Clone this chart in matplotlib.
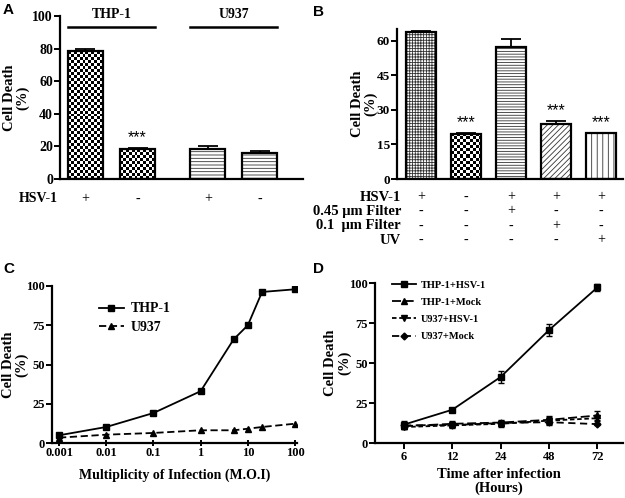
import numpy as np
import matplotlib.pyplot as plt
import matplotlib.transforms as mtransforms

plt.rcParams['font.family'] = ['Liberation Serif', 'DejaVu Serif']
plt.rcParams['font.weight'] = 'bold'
plt.rcParams['axes.labelweight'] = 'bold'
plt.rcParams['hatch.linewidth'] = 0.6

# Data -----

# Panel A
a_groups = ['THP-1', 'U937']
a_hsv = ['+', '-', '+', '-']
a_vals = [78.3, 18.4, 18.6, 15.9]
a_err = [1.7, 0.5, 1.7, 1.4]
a_sig = ['', '***', '', '']

# Panel B
b_vals = [63.7, 19.6, 57.4, 23.8, 19.8]
b_err = [0.6, 0.3, 3.1, 1.4, 0.2]
b_sig = ['', '***', '', '***', '***']
b_rows = ['HSV-1', '0.45 \u03bcm Filter', '0.1  \u03bcm Filter', 'UV']
b_signs = [['+', '-', '+', '+', '+'],
           ['-', '-', '+', '-', '-'],
           ['-', '-', '-', '+', '-'],
           ['-', '-', '-', '-', '+']]

# Panel C
c_moi = [0.001, 0.01, 0.1, 1, 5, 10, 20, 100]
c_moi_labels = ['0.001', '0.01', '0.1', '1', '10', '100']
c_thp = [4.9, 10.2, 19.1, 33, 66, 75, 96.2, 97.9]
c_u937 = [3.4, 5.3, 6.4, 8.1, 8.1, 9.1, 10.2, 12.3]

# Panel D
d_hours = ['6', '12', '24', '48', '72']
d_thp_hsv = [11.5, 20.8, 41.3, 70.6, 97.2]
d_thp_hsv_err = [2, 1, 3.7, 4, 2]
d_thp_mock = [10.5, 12, 12.8, 14.5, 17.2]
d_thp_mock_err = [1.5, 2, 1.5, 2.5, 2.8]
d_u_hsv = [10, 11, 12, 14, 15.5]
d_u_hsv_err = [1.5, 1.5, 2, 2, 2]
d_u_mock = [11, 11.2, 12.5, 13, 11.8]
d_u_mock_err = [1.2, 1.2, 1.5, 1.8, 0.8]

W, H = 625, 498


def box(l, t, r, b):
    # pixel box -> figure fraction rect
    return [l / W, 1 - b / H, (r - l) / W, (b - t) / H]


def style(ax, size):
    for s in ['top', 'right']:
        ax.spines[s].set_visible(False)
    for s in ['left', 'bottom']:
        ax.spines[s].set_linewidth(1.6)
    ax.tick_params(width=1.4, length=4, labelsize=size, pad=1)


def checker(ax, x0, x1, top, cell=3.0):
    p0 = ax.transData.transform((x0, 0))
    p1 = ax.transData.transform((x1, top))
    nx = max(1, int(round((p1[0] - p0[0]) / cell)))
    ny = max(1, int(round((p1[1] - p0[1]) / cell)))
    arr = np.add.outer(np.arange(ny), np.arange(nx)) % 2
    ax.imshow(arr, cmap='gray', extent=(x0, x1, 0, top), aspect='auto',
              interpolation='nearest', zorder=1)


def bars(ax, x, vals, err, hatches, width):
    for xi, v, h in zip(x, vals, hatches):
        if h == 'checker':
            checker(ax, xi - width / 2, xi + width / 2, v)
        else:
            ax.bar(xi, v, width, color='white', edgecolor='#333333',
                   hatch=h, linewidth=0, zorder=1)
    ax.errorbar(x, vals, yerr=[np.zeros(len(err)), err], fmt='none',
                ecolor='black', elinewidth=1.3, capsize=7, capthick=1.3, zorder=2)
    ax.bar(x, vals, width, facecolor='none', edgecolor='black',
           linewidth=1.6, zorder=3)


def stars(ax, x, vals, err, sig):
    for xi, v, e, s in zip(x, vals, err, sig):
        if s:
            ax.annotate(s, (xi, v + e), xytext=(0, 2), textcoords='offset points',
                        ha='center', va='bottom', fontsize=11.5,
                        family='Liberation Sans', fontweight='normal')


def ylab(ax, xpos):
    ax.set_ylabel('Cell Death\n(%)', fontsize=10.5, linespacing=1.0)
    ax.yaxis.set_label_coords(xpos, 0.5)


fig = plt.figure(figsize=(6.25, 4.98), dpi=100)

# Panel A -----
axA = fig.add_axes(box(60, 16, 303, 179))
style(axA, 10)
xa = [0, 1, 2.35, 3.35]
wa = 0.67
axA.set_xlim(-0.49, 4.18)
axA.set_ylim(0, 100)
axA.set_yticks([0, 20, 40, 60, 80, 100])
axA.set_xticks([])
bars(axA, xa, a_vals, a_err, ['checker', 'checker', '-----', '-----'], wa)
stars(axA, xa, a_vals, a_err, a_sig)
ylab(axA, -0.125)
for i, g in enumerate(a_groups):
    x0 = xa[2 * i] - wa / 2
    x1 = xa[2 * i + 1] + wa / 2
    axA.plot([x0, x1], [93, 93], color='black', lw=1.8, clip_on=False)
    axA.text((x0 + x1) / 2, 101, g, ha='center', va='center', fontsize=10)
trA = mtransforms.blended_transform_factory(axA.transData, fig.transFigure)
fig.text(19 / W, 1 - 199 / H, 'HSV-1', ha='left', va='center', fontsize=10)
for xi, s in zip(xa, a_hsv):
    axA.text(xi, 1 - 199 / H, s, transform=trA, ha='center', va='center',
             fontsize=10, fontweight='normal')

# Panel B -----
axB = fig.add_axes(box(397, 29, 623, 179))
style(axB, 9.5)
xb = np.arange(len(b_vals))
axB.set_xlim(-0.53, 4.49)
axB.set_ylim(0, 65)
axB.set_yticks([0, 15, 30, 45, 60])
axB.set_xticks([])
bars(axB, xb, b_vals, b_err, ['++++++', 'checker', '------', '//////', '|||'], 0.67)
stars(axB, xb, b_vals, b_err, b_sig)
ylab(axB, -0.088)
trB = mtransforms.blended_transform_factory(axB.transData, fig.transFigure)
for row, yp, signs in zip(b_rows, [197, 211, 226, 240], b_signs):
    fig.text(401 / W, 1 - yp / H, row, ha='right', va='center', fontsize=10.5)
    for xi, s in zip(xb, signs):
        axB.text(xi, 1 - yp / H, s, transform=trB, ha='center', va='center',
                 fontsize=10, fontweight='normal')

# Panel C -----
axC = fig.add_axes(box(52, 286, 297, 443))
style(axC, 9)
axC.set_xscale('log')
axC.plot(c_moi, c_thp, '-', color='black', lw=1.3, marker='s', ms=5, label='THP-1')
axC.plot(c_moi, c_u937, '--', color='black', lw=1.3, marker='^', ms=4,
         dashes=(4, 2), label='U937')
axC.set_xlim(7.1e-4, 110)
axC.set_ylim(0, 100)
axC.set_yticks([0, 25, 50, 75, 100])
axC.set_xticks([0.001, 0.01, 0.1, 1, 10, 100])
axC.set_xticklabels(c_moi_labels)
axC.minorticks_off()
axC.tick_params(axis='x', direction='inout', length=5, pad=0.5)
ylab(axC, -0.095)
axC.set_xlabel('Multiplicity of Infection (M.O.I)', fontsize=10, labelpad=7)
axC.legend(loc='upper left', bbox_to_anchor=(0.19, 0.895), frameon=False,
           fontsize=10, handlelength=1.8, handletextpad=0.5, labelspacing=0.4,
           borderpad=0, borderaxespad=0)

# Panel D -----
axD = fig.add_axes(box(375, 283, 623, 443))
style(axD, 9)
xd = np.arange(len(d_hours))
series = [
    (d_thp_hsv, d_thp_hsv_err, 'THP-1+HSV-1', 's', 5, None),
    (d_thp_mock, d_thp_mock_err, 'THP-1+Mock', '^', 4, (5, 2)),
    (d_u_hsv, d_u_hsv_err, 'U937+HSV-1', 'v', 4, (2.5, 1.5)),
    (d_u_mock, d_u_mock_err, 'U937+Mock', 'D', 3.5, (4, 2.5)),
]
for vals, err, lab, mk, ms, dash in series:
    axD.errorbar(xd, vals, yerr=err, fmt='none', ecolor='black',
                 capsize=2.5, elinewidth=1)
    ln, = axD.plot(xd, vals, color='black', lw=1.3, marker=mk, ms=ms, label=lab)
    if dash is not None:
        ln.set_dashes(dash)
axD.set_xlim(-0.6, 4.53)
axD.set_ylim(0, 100)
axD.set_yticks([0, 25, 50, 75, 100])
axD.set_xticks(xd)
axD.set_xticklabels(d_hours)
axD.tick_params(axis='x', pad=2)
ylab(axD, -0.097)
axD.set_xlabel('Time after infection\n(Hours)', fontsize=10.5, labelpad=3,
               linespacing=1.1)
axD.legend(loc='upper left', bbox_to_anchor=(0.07, 1.015), frameon=False,
           handlelength=2.3, handletextpad=0.4, labelspacing=0.75,
           borderpad=0, borderaxespad=0, prop={'weight': 'bold', 'size': 7.5})

# Panel letters
for lab, xp, yp in [('A', 3, 10), ('B', 313, 12), ('C', 3, 269), ('D', 313, 269)]:
    fig.text(xp / W, 1 - yp / H, lab, ha='left', va='center', fontsize=11,
             family='Liberation Sans', fontweight='bold')

fig.savefig('out.png', dpi=100)
